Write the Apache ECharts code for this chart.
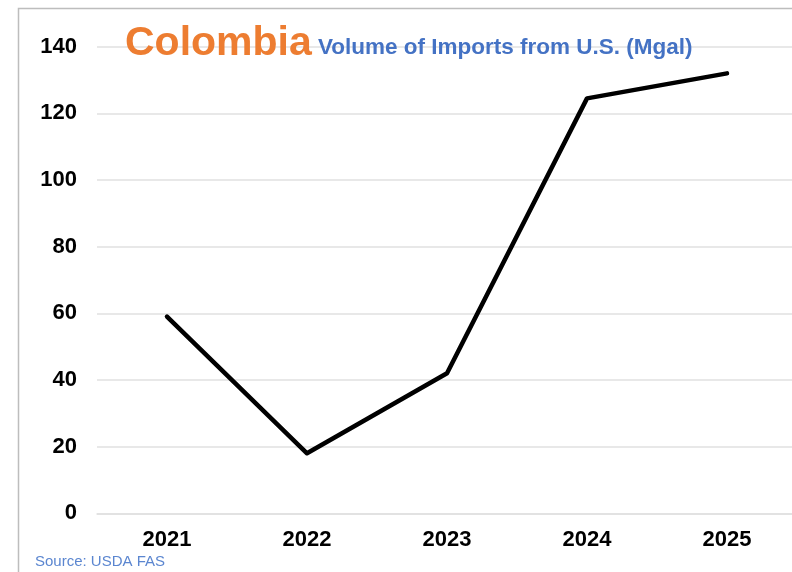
<!DOCTYPE html>
<html>
<head>
<meta charset="utf-8">
<script src="https://cdn.jsdelivr.net/npm/echarts@6/dist/echarts.min.js"></script>
<style>
  html, body {margin: 0; padding: 0; background: #fff; overflow: hidden;}
  #chart {width: 810px; height: 572px;}
</style>
</head>
<body>
<div id="chart"></div>
<script>
// values
const years = ['2021', '2022', '2023', '2024', '2025'];
const importsMgal = [59, 18, 42, 124.5, 132];
const yTicks = [0, 20, 40, 60, 80, 100, 120, 140];

const chart = echarts.init(document.getElementById('chart'));

const option = {
  backgroundColor: '#fff',
  animation: false,
  graphic: [
    {
      type: 'rect',
      z: 100,
      shape: {x: 18.5, y: 8.5, width: 800, height: 600},
      style: {fill: 'none', stroke: '#bdbdbd', lineWidth: 1.5}
    },
    {
      type: 'text',
      z: 100,
      left: 125,
      top: 23,
      style: {
        text: 'Colombia',
        fill: '#ED7D31',
        font: 'bold 41px "Liberation Sans", Arial, sans-serif'
      }
    },
    {
      type: 'text',
      z: 100,
      left: 318,
      top: 36,
      style: {
        text: 'Volume of Imports from U.S. (Mgal)',
        fill: '#4472C4',
        font: 'bold 22.5px "Liberation Sans", Arial, sans-serif'
      }
    },
    {
      type: 'text',
      z: 100,
      left: 35,
      top: 554,
      style: {
        text: 'Source: USDA FAS',
        fill: '#5B86D0',
        font: '15px "Liberation Sans", Arial, sans-serif'
      }
    }
  ],
  grid: {
    left: 97,
    width: 700,
    top: 46.7,
    bottom: 58.7,
    containLabel: false
  },
  xAxis: {
    type: 'category',
    data: years,
    boundaryGap: true,
    axisLine: {show: true, lineStyle: {color: '#e0e0e0', width: 1.5}},
    axisTick: {show: false},
    axisLabel: {
      color: '#000',
      fontWeight: 'bold',
      fontSize: 22,
      fontFamily: '"Liberation Sans", Arial, sans-serif',
      margin: 16
    }
  },
  yAxis: {
    type: 'value',
    min: yTicks[0],
    max: yTicks[yTicks.length - 1],
    interval: 20,
    axisLine: {show: false},
    axisTick: {show: false},
    splitLine: {lineStyle: {color: '#e0e0e0', width: 1.5}},
    axisLabel: {
      color: '#000',
      fontWeight: 'bold',
      fontSize: 22,
      fontFamily: '"Liberation Sans", Arial, sans-serif',
      margin: 20
    }
  },
  series: [{
    type: 'line',
    data: importsMgal,
    symbol: 'none',
    lineStyle: {color: '#000', width: 4.5, cap: 'round', join: 'round'},
    z: 5
  }]
};

chart.setOption(option);
</script>
</body>
</html>
